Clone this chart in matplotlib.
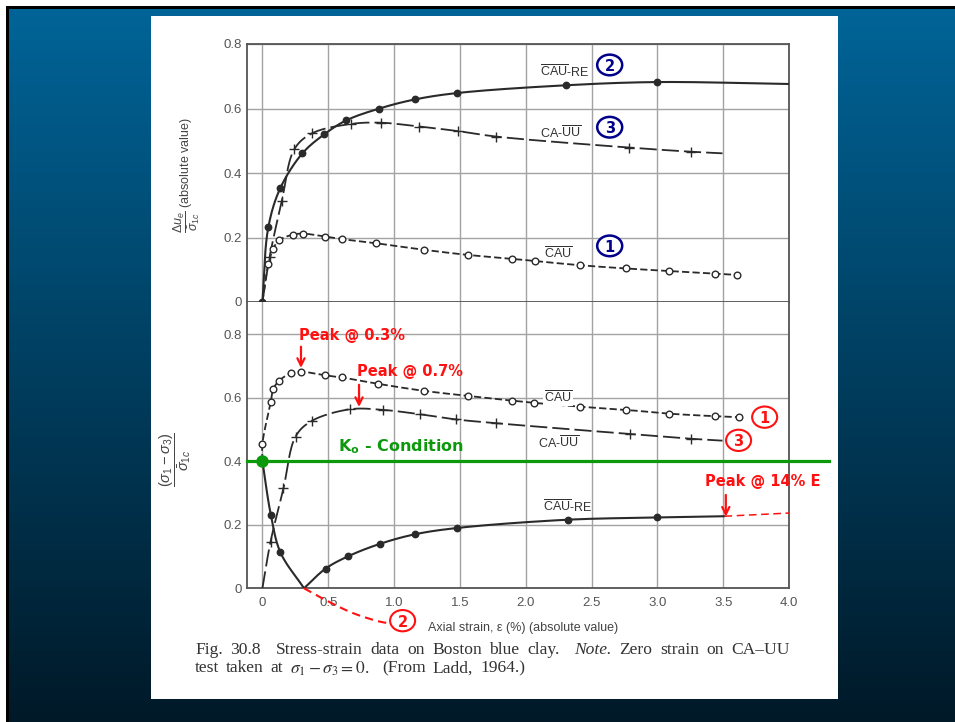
import numpy as np
import matplotlib
matplotlib.use("Agg")
import matplotlib.pyplot as plt
from matplotlib.patches import Rectangle, Ellipse

plt.rcParams["font.family"] = ["Liberation Sans", "DejaVu Sans"]
plt.rcParams["mathtext.fontset"] = "custom"
plt.rcParams["mathtext.rm"] = "Liberation Sans"
plt.rcParams["mathtext.it"] = "Liberation Sans:italic"
plt.rcParams["mathtext.bf"] = "DejaVu Sans:bold"

# ---------------- data: top panel (pore pressure) ----------------
re_top_strain = [0, 0.045, 0.137, 0.304, 0.47, 0.636, 0.889, 1.157, 1.48, 2.305, 3.0, 4.0]
re_top_du = [0, 0.232, 0.354, 0.461, 0.52, 0.563, 0.600, 0.628, 0.648, 0.672, 0.682, 0.676]

cau_top_strain = [0, 0.045, 0.08, 0.125, 0.233, 0.31, 0.473, 0.604, 0.866, 1.225, 1.56,
                  1.897, 2.072, 2.414, 2.76, 3.09, 3.44, 3.607]
cau_top_du = [0, 0.118, 0.163, 0.191, 0.209, 0.212, 0.203, 0.195, 0.182, 0.162, 0.146,
              0.134, 0.127, 0.114, 0.104, 0.096, 0.088, 0.084]

uu_top_strain = [0, 0.055, 0.147, 0.243, 0.377, 0.672, 0.898, 1.193, 1.484, 1.775, 2.782, 3.255, 3.495]
uu_top_du = [0, 0.14, 0.313, 0.474, 0.523, 0.552, 0.556, 0.544, 0.53, 0.513, 0.479, 0.466, 0.461]

# ---------------- data: bottom panel (deviator stress) ----------------
cau_bot_strain = [0, 0, 0.064, 0.083, 0.128, 0.214, 0.291, 0.476, 0.604, 0.879, 1.225, 1.56,
                  1.897, 2.066, 2.414, 2.76, 3.09, 3.44, 3.617]
cau_bot_q = [0.4, 0.455, 0.588, 0.628, 0.654, 0.677, 0.682, 0.671, 0.664, 0.644, 0.622, 0.606,
             0.591, 0.584, 0.572, 0.562, 0.550, 0.542, 0.539]

uu_bot_strain = [0, 0.062, 0.16, 0.252, 0.374, 0.668, 0.914, 1.2, 1.468, 1.775, 2.79, 3.255, 3.495]
uu_bot_q = [0, 0.147, 0.315, 0.478, 0.527, 0.564, 0.562, 0.548, 0.532, 0.52, 0.486, 0.471, 0.465]

re_fall_strain = [0, 0.064, 0.137, 0.316]
re_fall_q = [0.4, 0.232, 0.113, 0.0]
re_rise_strain = [0.316, 0.48, 0.652, 0.893, 1.157, 1.48, 2.318, 3.0, 3.51]
re_rise_q = [0.0, 0.062, 0.101, 0.140, 0.170, 0.190, 0.216, 0.223, 0.227]

# extension branch below zero and projected tail to the 14% peak
re_neg_strain = [0.316, 0.489, 0.681, 0.873, 0.953]
re_neg_q = [0.0, -0.039, -0.077, -0.103, -0.110]
re_tail_strain = [3.51, 4.0]
re_tail_q = [0.227, 0.237]

k0_ratio = 0.4
x_ticks = [0, 0.5, 1.0, 1.5, 2.0, 2.5, 3.0, 3.5, 4.0]
x_tick_labels = ["0", "0.5", "1.0", "1.5", "2.0", "2.5", "3.0", "3.5", "4.0"]
y_ticks = [0, 0.2, 0.4, 0.6, 0.8]
y_tick_labels = ["0", "0.2", "0.4", "0.6", "0.8"]

# caption words: (text, italic, relative gap before)
caption_line1 = [("Fig.", False, 1), ("30.8", False, 1), ("Stress-strain", False, 2), ("data", False, 1),
                 ("on", False, 1), ("Boston", False, 1), ("blue", False, 1), ("clay.", False, 1),
                 ("Note.", True, 2), ("Zero", False, 1), ("strain", False, 1), ("on", False, 1),
                 ("CA\u2013UU", False, 1)]
caption_line2 = [("test", False, 1), ("taken", False, 1), ("at", False, 1),
                 (r"$\sigma_1 - \sigma_3 = 0$.", False, 1),
                 ("(From", False, 2), ("Ladd,", False, 1), ("1964.)", False, 1)]

LINE = "#2a2a2a"
GRID = "#a3a3a3"
NAVY = "#00008b"
RED = "#ff1111"
GREEN = "#0c990c"


def smooth(xs, ys, n=18, sx=131.6, sy=320.0):
    """Centripetal Catmull-Rom curve through the given points."""
    P = np.column_stack([np.asarray(xs, float) * sx, np.asarray(ys, float) * sy])
    P = np.vstack([2 * P[0] - P[1], P, 2 * P[-1] - P[-2]])
    out = []
    for i in range(1, len(P) - 2):
        p0, p1, p2, p3 = P[i - 1], P[i], P[i + 1], P[i + 2]
        t0 = 0.0
        t1 = t0 + max(np.linalg.norm(p1 - p0), 1e-9) ** 0.5
        t2 = t1 + max(np.linalg.norm(p2 - p1), 1e-9) ** 0.5
        t3 = t2 + max(np.linalg.norm(p3 - p2), 1e-9) ** 0.5
        t = np.linspace(t1, t2, n)[:, None]
        a1 = (t1 - t) / (t1 - t0) * p0 + (t - t0) / (t1 - t0) * p1
        a2 = (t2 - t) / (t2 - t1) * p1 + (t - t1) / (t2 - t1) * p2
        a3 = (t3 - t) / (t3 - t2) * p2 + (t - t2) / (t3 - t2) * p3
        b1 = (t2 - t) / (t2 - t0) * a1 + (t - t0) / (t2 - t0) * a2
        b2 = (t3 - t) / (t3 - t1) * a2 + (t - t1) / (t3 - t1) * a3
        c = (t2 - t) / (t2 - t1) * b1 + (t - t1) / (t2 - t1) * b2
        out.append(c if i == 1 else c[1:])
    c = np.vstack(out)
    return c[:, 0] / sx, c[:, 1] / sy


SHORT = (0, (4.0, 1.8))
LONG = (0, (9.5, 2.8))


def series(ax, xs, ys, ls, marker, mfc, ms, every, color=LINE, lw=1.3):
    cx, cy = smooth(xs, ys)
    ax.plot(cx, cy, color=color, lw=lw, linestyle=ls, zorder=3, solid_capstyle="round")
    if marker is not None:
        ax.plot(xs, ys, linestyle="none", marker=marker, ms=ms, mfc=mfc, mec=color,
                mew=1.0, markevery=every, zorder=4)


fig = plt.figure(figsize=(9.55, 7.22), dpi=100)

# ---- slide background ----
bg = fig.add_axes([0, 0, 1, 1])
bg.set_xlim(0, 955)
bg.set_ylim(722, 0)
bg.axis("off")
g = np.linspace(0, 1, 300)[:, None]
top_c = np.array([0, 101, 153]) / 255.0
bot_c = np.array([0, 25, 40]) / 255.0
rgb = (top_c[None, None, :] * (1 - g[:, :, None]) + bot_c[None, None, :] * g[:, :, None])
bg.imshow(rgb, extent=(0, 955, 722, 0), aspect="auto", interpolation="bilinear")
bg.add_patch(Rectangle((0, 0), 955, 6, fc="white", ec="none"))
bg.add_patch(Rectangle((0, 0), 6, 722, fc="white", ec="none"))
bg.add_patch(Rectangle((6, 6), 949, 3, fc="black", ec="none"))
bg.add_patch(Rectangle((6, 6), 3, 716, fc="black", ec="none"))
bg.add_patch(Rectangle((151, 16), 687, 683, fc="white", ec="none"))

# ---- caption (justified word by word) ----
renderer = fig.canvas.get_renderer()
cap_kw = dict(family="Liberation Serif", fontsize=12.6, color="#333333", va="center",
              ha="left", math_fontfamily="stix")


def justified(words, y, x0, x1):
    items = []
    for w, ital, _ in words:
        t = bg.text(0, y, w, style="italic" if ital else "normal", **cap_kw)
        items.append(t)
    widths = [t.get_window_extent(renderer).width for t in items]
    weights = [gap for _, _, gap in words[1:]]
    unit = ((x1 - x0) - sum(widths)) / sum(weights)
    x = x0
    for i, t in enumerate(items):
        if i > 0:
            x += weights[i - 1] * unit
        t.set_x(x)
        x += widths[i]


justified(caption_line1, 650, 195, 790)
justified(caption_line2, 668.5, 195, 525)

# ---- axes ----
XL = (-0.117, 4.0)
ax_top = fig.add_axes([247 / 955, 1 - 302 / 722, 542 / 955, 258 / 722])
ax_bot = fig.add_axes([247 / 955, 1 - 588.3 / 722, 542 / 955, 286.3 / 722])
for ax in (ax_top, ax_bot):
    ax.set_zorder(2)
    ax.set_xlim(*XL)
    ax.set_xticks(x_ticks)
    ax.set_yticks(y_ticks)
    ax.set_yticklabels(y_tick_labels)
    ax.grid(True, color=GRID, lw=1.0, zorder=0)
    ax.set_axisbelow(True)
    ax.tick_params(length=0, labelsize=9.5, labelcolor="#555555", pad=4)
    for s in ax.spines.values():
        s.set_color("#555555")
        s.set_linewidth(1.3)
ax_top.set_ylim(0, 0.8)
ax_top.set_xticklabels([])
ax_bot.set_ylim(0, 0.9017)
ax_bot.spines["top"].set_visible(False)
ax_bot.set_xticklabels(x_tick_labels)
ax_bot.tick_params(axis="x", pad=6)

ax_top.set_ylabel(r"$\dfrac{\Delta u_e}{\bar{\sigma}_{1c}}$ (absolute value)", fontsize=9,
                  color="#444444")
ax_top.yaxis.set_label_coords(-0.083, 0.49)
ax_bot.set_ylabel(r"$\dfrac{(\sigma_1-\sigma_3)}{\bar{\sigma}_{1c}}$", fontsize=10.5, color="#444444")
ax_bot.yaxis.set_label_coords(-0.1, 0.45)
ax_bot.set_xlabel("Axial strain, \u03b5 (%) (absolute value)", fontsize=9, color="#444444")
ax_bot.xaxis.set_label_coords(0.509, -0.116)

# ---- top panel curves ----
series(ax_top, uu_top_strain, uu_top_du, LONG, "+", LINE, 7, slice(1, -1))
series(ax_top, cau_top_strain, cau_top_du, SHORT, "o", "white", 4.8, slice(1, None))
series(ax_top, re_top_strain, re_top_du, "-", "o", LINE, 4.6, slice(0, -1), lw=1.5)

# ---- bottom panel curves ----
series(ax_bot, uu_bot_strain, uu_bot_q, LONG, "+", LINE, 7, slice(1, -1))
series(ax_bot, cau_bot_strain, cau_bot_q, SHORT, "o", "white", 4.8, slice(1, None))
series(ax_bot, re_fall_strain, re_fall_q, "-", "o", LINE, 4.6, slice(1, -1), lw=1.5)
series(ax_bot, re_rise_strain, re_rise_q, "-", "o", LINE, 4.6, slice(1, -1), lw=1.5)

nx, ny = smooth(re_neg_strain, re_neg_q)
ax_bot.plot(nx, ny, color=RED, lw=1.5, linestyle=(0, (4, 2.5)), clip_on=False, zorder=5)
ax_bot.plot(re_tail_strain, re_tail_q, color=RED, lw=1.1, linestyle=(0, (5, 3)), zorder=5)

# K0 line
ax_bot.plot([XL[0], 4.305], [k0_ratio, k0_ratio], color=GREEN, lw=2.3, clip_on=False, zorder=5)
ax_bot.plot([0], [k0_ratio], marker="o", ms=8, color=GREEN, clip_on=False, zorder=6)
ax_bot.text(1.053, 0.446, r"K$_{\mathbf{o}}$ - Condition", color=GREEN, fontsize=11.5,
            fontweight="bold", family="DejaVu Sans", ha="center", va="center", zorder=6)

# ---- curve labels ----
lab_kw = dict(fontsize=9, color="#333333", ha="center", va="center", zorder=6)
ax_top.text(2.296, 0.714, r"$\overline{\mathrm{CAU}}$-RE", **lab_kw)
ax_top.text(2.265, 0.523, r"CA-$\overline{\mathrm{UU}}$", **lab_kw)
ax_top.text(2.248, 0.151, r"$\overline{\mathrm{CAU}}$", **lab_kw)
ax_bot.text(2.248, 0.602, r"$\overline{\mathrm{CAU}}$", bbox=dict(fc="white", ec="none", pad=0.5), **lab_kw)
ax_bot.text(2.248, 0.459, r"CA-$\overline{\mathrm{UU}}$", **lab_kw)
ax_bot.text(2.322, 0.257, r"$\overline{\mathrm{CAU}}$-RE", **lab_kw)


def circled(ax, x, y, label, color, h, lw, fs):
    ax.add_patch(Ellipse((x, y), 0.19, h, fc="white", ec=color, lw=lw, zorder=7, clip_on=False))
    ax.text(x, y, label, color=color, fontsize=fs, fontweight="bold", family="DejaVu Sans",
            ha="center", va="center_baseline", zorder=8, clip_on=False)


circled(ax_top, 2.638, 0.735, "2", NAVY, 0.064, 1.8, 10.5)
circled(ax_top, 2.638, 0.542, "3", NAVY, 0.064, 1.8, 10.5)
circled(ax_top, 2.638, 0.174, "1", NAVY, 0.064, 1.8, 10.5)
circled(ax_bot, 3.815, 0.539, "1", RED, 0.067, 1.5, 10.5)
circled(ax_bot, 3.617, 0.466, "3", RED, 0.067, 1.5, 10.5)
circled(ax_bot, 1.065, -0.102, "2", RED, 0.067, 1.5, 10.5)

# ---- peak annotations ----
red_kw = dict(color=RED, fontsize=10.5, fontweight="bold", family="DejaVu Sans", va="center", zorder=8)
arrow = dict(arrowstyle="->", color=RED, lw=1.6, shrinkA=0, shrinkB=0, mutation_scale=13)
ax_bot.text(0.677, 0.795, "Peak @ 0.3%", ha="center", **red_kw)
ax_bot.annotate("", xy=(0.293, 0.694), xytext=(0.293, 0.761), arrowprops=arrow, zorder=8)
ax_bot.text(1.12, 0.684, "Peak @ 0.7%", ha="center", **red_kw)
ax_bot.annotate("", xy=(0.734, 0.571), xytext=(0.734, 0.641), arrowprops=arrow, zorder=8)
ax_bot.text(3.797, 0.335, "Peak @ 14% E", ha="center", **red_kw)
ax_bot.annotate("", xy=(3.52, 0.2255), xytext=(3.52, 0.294), arrowprops=arrow, zorder=8)

fig.savefig("out.png", dpi=100)
